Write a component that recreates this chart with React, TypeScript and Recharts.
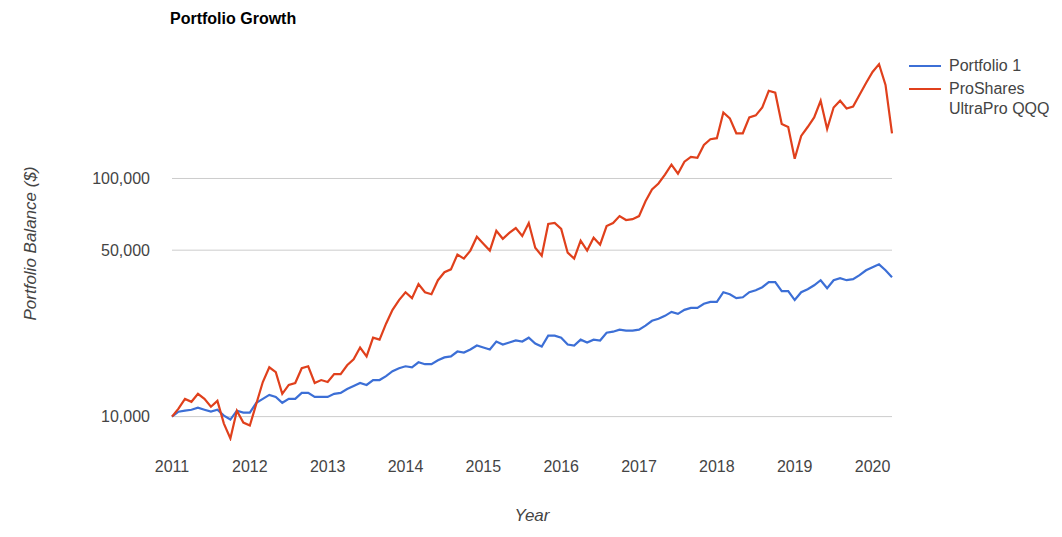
import { CartesianGrid, Line, LineChart, XAxis, YAxis, Label } from 'recharts';

const startYear = 2011;
const yearTicks = [2011, 2012, 2013, 2014, 2015, 2016, 2017, 2018, 2019, 2020];
const balanceTicks = [10000, 50000, 100000];

const portfolio1 = [
  10000, 10490, 10590, 10690, 10900, 10690, 10490, 10690, 10100, 9720, 10590, 10390,
  10390, 11430, 11870, 12340, 12100, 11430, 11870, 11870, 12580, 12580, 12100, 12100,
  12100, 12460, 12580, 13060, 13450, 13840, 13580, 14240, 14240, 14790, 15510, 15960,
  16270, 16110, 16910, 16600, 16600, 17230, 17730, 17910, 18770, 18590, 19140, 19890,
  19500, 19140, 20670, 20080, 20480, 20880, 20670, 21450, 20280, 19700, 21870, 21870,
  21450, 20080, 19890, 21050, 20480, 21050, 20880, 22510, 22730, 23180, 22950, 22950,
  23180, 24090, 25260, 25740, 26500, 27540, 27010, 28080, 28630, 28630, 29770, 30320,
  30320, 33290, 32650, 31440, 31700, 33290, 33950, 34950, 36680, 36680, 33620, 33620,
  30860, 33290, 34280, 35600, 37400, 34620, 37400, 38120, 37400, 37760, 39250, 41150,
  42380, 43600, 41150, 38520,
];

const ultraProQQQ = [
  10000, 10800, 11870, 11540, 12460, 11870, 11000, 11650, 9350, 8100, 10590, 9440,
  9170, 11320, 13970, 16110, 15360, 12460, 13580, 13840, 15960, 16270, 13840, 14240,
  13970, 15080, 15080, 16430, 17390, 19500, 17910, 21450, 21050, 24560, 28080, 30860,
  33290, 31440, 36000, 33290, 32650, 37400, 40380, 41530, 47900, 46100, 49800, 56900,
  53200, 49800, 60300, 55800, 59100, 61900, 57400, 65000, 51200, 47400, 64400, 65000,
  61400, 48800, 46100, 54800, 49800, 56400, 52700, 63100, 65000, 69500, 66900, 67500,
  69500, 80200, 90000, 95300, 103900, 114300, 104700, 117600, 123300, 122100, 138300, 146200,
  147600, 189300, 178800, 154800, 154800, 180500, 184000, 198600, 233600, 229200, 169200, 164500,
  121000, 150900, 164500, 180500, 212000, 161300, 198600, 212000, 196700, 200600, 224800, 251900,
  280000, 302000, 247100, 154800,
];

const rows = portfolio1.map((p1, i) => ({
  t: startYear + i / 12,
  p1,
  qqq: ultraProQQQ[i],
}));

const font = 'Arial, "Liberation Sans", sans-serif';
const blue = '#3c6fd6';
const red = '#e0401c';

export default function App() {
  return (
    <div style={{ position: 'absolute', left: 0, top: 0, width: 1062, height: 537, background: '#fff', fontFamily: font }}>
      <div style={{ position: 'absolute', left: 170, top: 10, fontSize: 16, fontWeight: 'bold', color: '#000' }}>
        Portfolio Growth
      </div>
      <LineChart width={1062} height={537} data={rows} margin={{ top: 46, right: 170, bottom: 66, left: 0 }}>
        <CartesianGrid vertical={false} stroke="#ccc" horizontalValues={balanceTicks} />
        <XAxis
          dataKey="t"
          type="number"
          domain={[2011, 2020.25]}
          ticks={yearTicks}
          height={30}
          axisLine={false}
          tickLine={false}
          tick={{ fill: '#444', fontSize: 16, fontFamily: font }}
          tickMargin={14}
        >
          <Label value="Year" position="insideBottom" offset={-50} style={{ fill: '#444', fontSize: 17, fontStyle: 'italic', fontFamily: font }} />
        </XAxis>
        <YAxis
          scale="log"
          domain={[7900, 360000]}
          ticks={balanceTicks}
          width={172}
          axisLine={false}
          tickLine={false}
          allowDataOverflow
          tick={{ fill: '#444', fontSize: 16, fontFamily: font }}
          tickFormatter={(v) => Number(v).toLocaleString('en-US')}
          tickMargin={16}
        >
          <Label value="Portfolio Balance ($)" angle={-90} position="insideLeft" offset={30} style={{ textAnchor: 'middle', fill: '#444', fontSize: 17, fontStyle: 'italic', fontFamily: font }} />
        </YAxis>
        <Line dataKey="p1" stroke={blue} strokeWidth={2.2} dot={false} isAnimationActive={false} />
        <Line dataKey="qqq" stroke={red} strokeWidth={2.2} dot={false} isAnimationActive={false} />
      </LineChart>
      <div style={{ position: 'absolute', left: 909, top: 56, fontSize: 16, color: '#444', lineHeight: '20px' }}>
        <div style={{ display: 'flex', alignItems: 'flex-start' }}>
          <span style={{ width: 32, height: 2, background: blue, marginTop: 9, marginRight: 8 }} />
          <span>Portfolio 1</span>
        </div>
        <div style={{ display: 'flex', alignItems: 'flex-start', marginTop: 3 }}>
          <span style={{ width: 32, height: 2, background: red, marginTop: 9, marginRight: 8 }} />
          <span>ProShares<br />UltraPro QQQ</span>
        </div>
      </div>
    </div>
  );
}
